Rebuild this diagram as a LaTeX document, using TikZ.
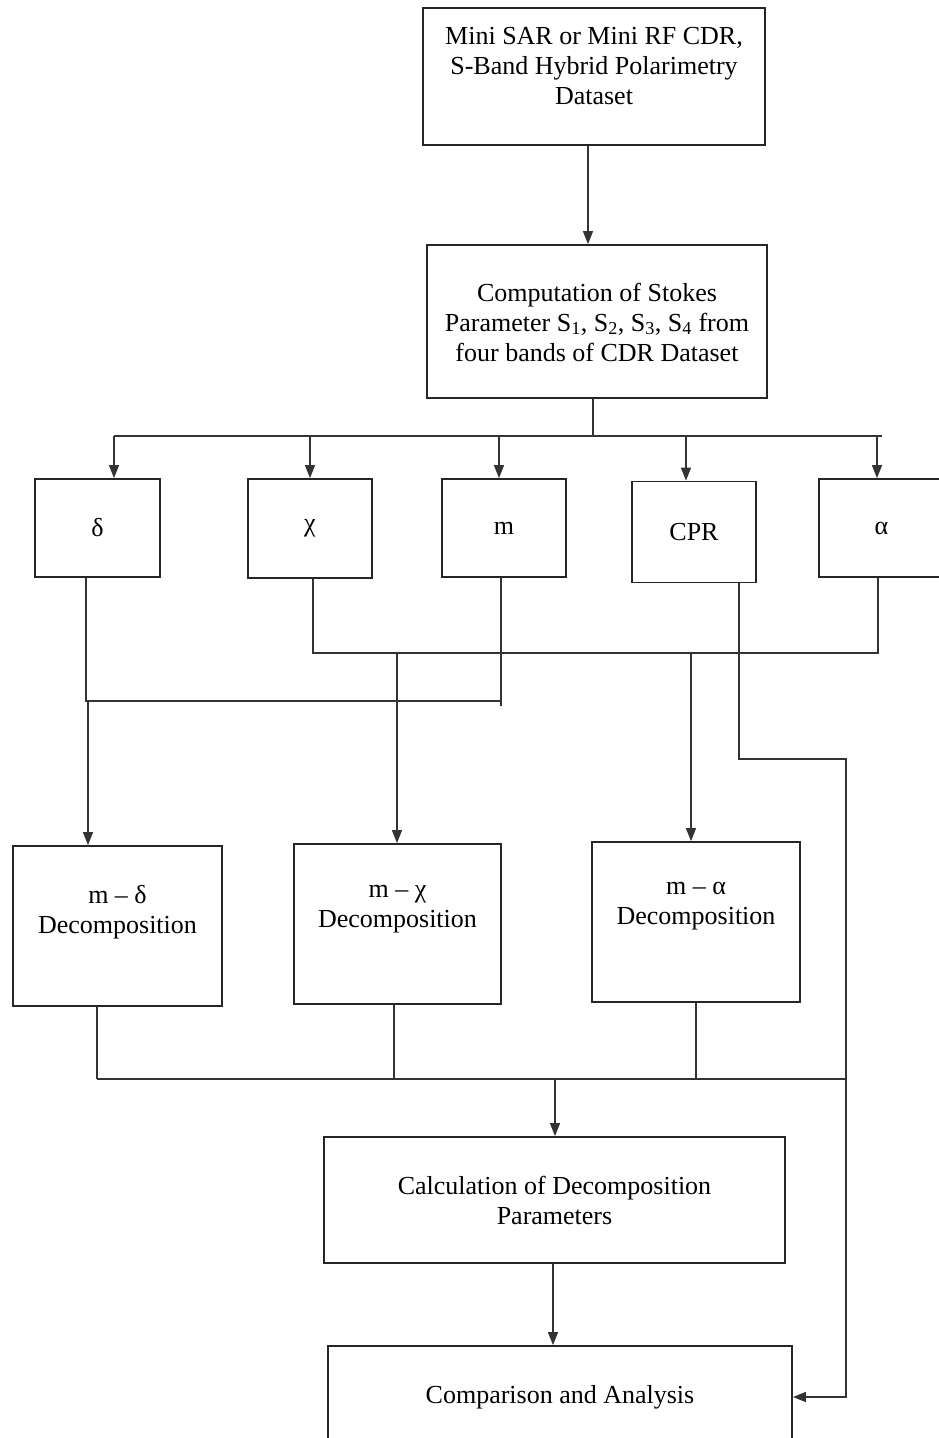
\documentclass[tikz,border=0pt]{standalone}
\usepackage{fontspec}
\setmainfont{Liberation Serif}
\usetikzlibrary{arrows.meta,calc}
\begin{document}
\begin{tikzpicture}[x=1pt,y=-1pt,
  box/.style={draw=black!85,line width=1.8pt,rectangle,inner sep=0pt},
  txt/.style={align=center,font=\fontsize{26}{30}\selectfont,inner sep=0pt,text=black},
  conn/.style={draw=black!80,line width=1.4pt},
  arr/.style={conn,-{Triangle[length=13pt,width=10pt]}}]
\clip (0,0) rectangle (939,1438);
\fill[white] (0,0) rectangle (939,1438);

% boxes
\node[box,minimum width=342pt,minimum height=137pt] (top) at (594,76.5) {};
\node[txt] (topT) at (594,66) {Mini SAR or Mini RF CDR,\\S-Band Hybrid Polarimetry\\Dataset};

\node[box,minimum width=340pt,minimum height=153pt] (stokes) at (597,321.5) {};
\node[txt] (stokesT) at (597,322) {Computation of Stokes\\Parameter S\textsubscript{1}, S\textsubscript{2}, S\textsubscript{3}, S\textsubscript{4} from\\four bands of CDR Dataset};

\node[box,minimum width=125pt,minimum height=98pt,txt] (delta) at (97.5,528) {δ};
\node[box,minimum width=124pt,minimum height=99pt,txt] (chi) at (310,528.5) {χ};
\node[box,minimum width=124pt,minimum height=98pt,txt] (m) at (504,528) {m};
\node[box,minimum width=124pt,minimum height=101pt,txt] (cpr) at (694,532) {CPR};
\node[box,minimum width=125pt,minimum height=98pt,txt] (alpha) at (881.5,528) {α};

\node[box,minimum width=209pt,minimum height=160pt] (md) at (117.5,926) {};
\node[txt] (mdT) at (117.5,912) {m – δ\\Decomposition};
\node[box,minimum width=207pt,minimum height=160pt] (mchi) at (397.5,924) {};
\node[txt] (mchiT) at (397.5,909) {m – χ\\Decomposition};
\node[box,minimum width=208pt,minimum height=160pt] (malpha) at (696,922) {};
\node[txt] (malphaT) at (696,906) {m – α\\Decomposition};

\node[box,minimum width=461pt,minimum height=126pt,txt] (calc) at (554.5,1200) {Calculation of Decomposition\\Parameters};
\node[box,minimum width=464pt,minimum height=102pt,txt] (comp) at (560,1397) {Comparison and Analysis};

% top arrow
\coordinate (t0) at (588,0);
\draw[arr] (top.south -| t0) -- (t0 |- stokes.north);

% distribution line
\coordinate (h0) at (593,436);
\coordinate (hL) at (114,436);
\coordinate (hR) at (882,436);
\draw[conn] (stokes.south -| h0) -- (h0);
\draw[conn] (hL) -- (hR);
\coordinate (aC) at (310,436);
\coordinate (aM) at (499,436);
\coordinate (aP) at (686,436);
\coordinate (aA) at (877,436);
\draw[arr] (hL) -- (hL |- delta.north);
\draw[arr] (aC) -- (aC |- chi.north);
\draw[arr] (aM) -- (aM |- m.north);
\draw[arr] (aP) -- (aP |- cpr.north);
\draw[arr] (aA) -- (aA |- alpha.north);

% delta + m
\coordinate (dm1) at (86,701);
\coordinate (dm2) at (501,701);
\coordinate (dm3) at (501,706);
\draw[conn] (delta.south -| dm1) -- (dm1) -- (dm2);
\draw[conn] (m.south -| dm3) -- (dm3);
\coordinate (dmA) at (88,701);
\draw[arr] (dmA) -- (dmA |- md.north);

% chi + alpha
\coordinate (ca1) at (313,653);
\coordinate (ca2) at (878,653);
\draw[conn] (chi.south -| ca1) -- (ca1) -- (ca2) -- (ca2 |- alpha.south);
\coordinate (caC) at (397,653);
\draw[arr] (caC) -- (caC |- mchi.north);
\coordinate (caA) at (691,653);
\draw[arr] (caA) -- (caA |- malpha.north);

% CPR to comparison
\coordinate (c1) at (739,759);
\coordinate (c2) at (846,759);
\draw[arr] (cpr.south -| c1) -- (c1) -- (c2) -- (c2 |- comp.east) -- (comp.east);

% decompositions to calculation
\coordinate (b1) at (97,1079);
\coordinate (b2) at (394,1079);
\coordinate (b3) at (696,1079);
\coordinate (b4) at (846,1079);
\coordinate (bA) at (555,1079);
\draw[conn] (md.south -| b1) -- (b1);
\draw[conn] (mchi.south -| b2) -- (b2);
\draw[conn] (malpha.south -| b3) -- (b3);
\draw[conn] (b1) -- (b4);
\draw[arr] (bA) -- (bA |- calc.north);

% calculation to comparison
\coordinate (cc) at (553,1263);
\draw[arr] (calc.south -| cc) -- (cc |- comp.north);
\end{tikzpicture}
\end{document}
